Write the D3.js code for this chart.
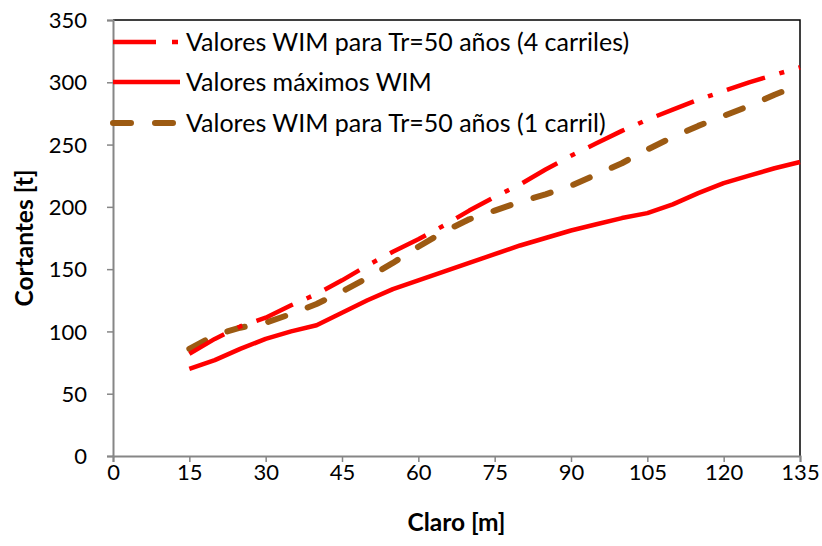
<!DOCTYPE html>
<html>
<head>
<meta charset="utf-8">
<script src="https://cdn.jsdelivr.net/npm/d3@7"></script>
<style>
  html, body { margin: 0; padding: 0; background: #fff; }
  svg { display: block; }
  text { font-family: Lato, "Open Sans", sans-serif; fill: #000; }
</style>
</head>
<body>
<svg id="chart" width="822" height="546"></svg>
<script>
// ---- data ----
const claro = [15,20,25,30,35,40,45,50,55,60,65,70,75,80,85,90,95,100,105,110,115,120,125,130,135];
const wim4carriles = [82,94,104,111,121,130,141,153,164,174,185,197,208,218,230,241,251,261,270,278,286,293,300,306,312];
const wimMaximos   = [70,77,86,94,100,105,115,125,134,141,148,155,162,169,175,181,186,191,195,202,211,219,225,231,236];
const wim1carril   = [86,97,103,107,114,122,132,143,155,168,180,190,197,204,210,217,226,235,246,256,265,273,281,290,298];
const xTicks = [0,15,30,45,60,75,90,105,120,135];
const yTicks = [0,50,100,150,200,250,300,350];
const seriesNames = ["Valores WIM para Tr=50 años (4 carriles)", "Valores máximos WIM", "Valores WIM para Tr=50 años (1 carril)"];
const xTitle = "Claro [m]";
const yTitle = "Cortantes [t]";

// ---- layout ----
const svg = d3.select("#chart");
const L = 113, R = 800, T = 20, B = 456;
const x = d3.scaleLinear().domain([0,135]).range([L,R]);
const y = d3.scaleLinear().domain([0,350]).range([B,T]);
const axisGray = "#868686";

// plot area border (top/right)
svg.append("path")
  .attr("d", `M${L},${T}H${R}V${B}`)
  .attr("fill","none").attr("stroke","#000").attr("stroke-width",1.5);

// axes
const xAxis = svg.append("g").attr("transform",`translate(0,${B})`)
  .call(d3.axisBottom(x).tickValues(xTicks).tickSize(6).tickPadding(4).tickFormat(d3.format("d")));
const yAxis = svg.append("g").attr("transform",`translate(${L},0)`)
  .call(d3.axisLeft(y).tickValues(yTicks).tickSize(6).tickPadding(20).tickFormat(d3.format("d")));
[xAxis,yAxis].forEach(g=>{
  g.select(".domain").attr("stroke",axisGray).attr("stroke-width",2);
  g.selectAll(".tick line").attr("stroke",axisGray).attr("stroke-width",1.5);
  g.selectAll(".tick text").style("font-size","22px").attr("fill","#000");
});
xAxis.selectAll(".tick text").attr("dy","0.65em");
yAxis.selectAll(".tick text").attr("dy","0.35em");

// axis titles
svg.append("text").attr("x",(L+R)/2).attr("y",531).attr("text-anchor","middle")
  .style("font-size","24.5px").style("font-weight","bold").text(xTitle);
svg.append("text").attr("transform",`translate(33,${(T+B)/2}) rotate(-90)`).attr("text-anchor","middle")
  .style("font-size","24.5px").style("font-weight","bold").text(yTitle);

// lines
const styles = [
  {data: wim4carriles, color:"#FF0000", width:4.5, dash:"40,15,5,15", cap:"butt"},
  {data: wimMaximos,   color:"#FF0000", width:4.5, dash:null, cap:"butt"},
  {data: wim1carril,   color:"#9C5A12", width:6,   dash:"18,24", cap:"round"}
];
const line = d3.line().x((d,i)=>x(claro[i])).y(d=>y(d));
// draw order: solid, 1 carril, 4 carriles on top
[1,2,0].forEach(k=>{
  const s = styles[k];
  svg.append("path").attr("d", line(s.data))
    .attr("fill","none").attr("stroke",s.color).attr("stroke-width",s.width)
    .attr("stroke-linecap",s.cap).attr("stroke-linejoin","round")
    .attr("stroke-dasharray",s.dash);
});

// legend
const legY = [42, 82, 123];
seriesNames.forEach((name,k)=>{
  const s = styles[k];
  svg.append("line").attr("x1",113).attr("x2",k===2?176:180).attr("y1",legY[k]).attr("y2",legY[k])
    .attr("stroke",s.color).attr("stroke-width",s.width)
    .attr("stroke-linecap",s.cap).attr("stroke-dasharray", k===0 ? "43,16,6,40" : s.dash);
  svg.append("text").attr("x",186).attr("y",legY[k]).attr("dy","0.35em")
    .style("font-size","25px").text(name);
});
</script>
</body>
</html>
